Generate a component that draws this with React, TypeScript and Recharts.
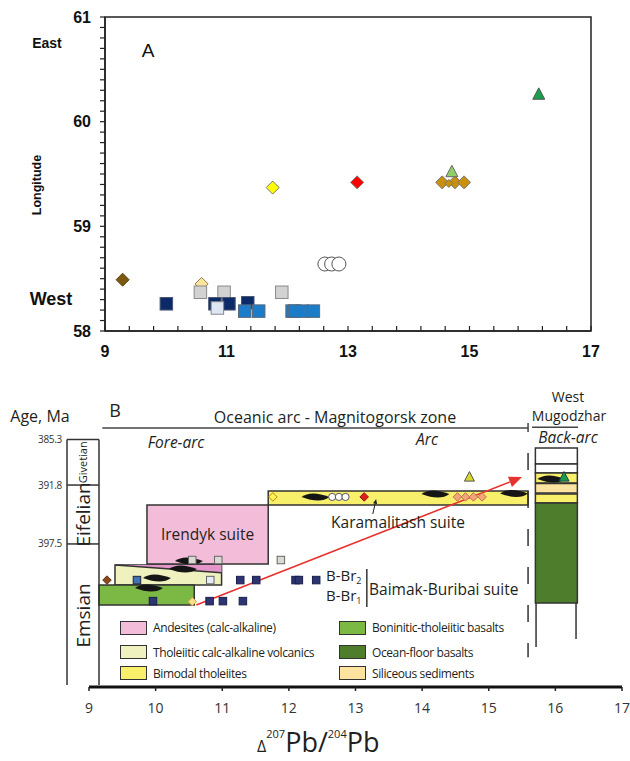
import {
  Area,
  ComposedChart,
  Label,
  Legend,
  ReferenceArea,
  ReferenceLine,
  Scatter,
  ScatterChart,
  XAxis,
  YAxis,
} from "recharts";

type Pt = { x: number; y: number };

// ---------- panel A : longitude vs Δ207Pb/204Pb ----------
const A_X_MAJOR = [9, 11, 13, 15, 17];
const A_Y_MAJOR = [58, 59, 60, 61];

const A_BROWN: Pt[] = [{ x: 9.29, y: 58.49 }];
const A_PALE: Pt[] = [{ x: 10.59, y: 58.45 }];
const A_GRAY: Pt[] = [
  { x: 10.57, y: 58.37 },
  { x: 10.96, y: 58.37 },
  { x: 11.91, y: 58.37 },
];
const A_NAVY: Pt[] = [
  { x: 10.01, y: 58.26 },
  { x: 10.81, y: 58.26 },
  { x: 11.04, y: 58.26 },
  { x: 11.35, y: 58.27 },
];
const A_LIGHTBLUE: Pt[] = [{ x: 10.85, y: 58.22 }];
const A_BLUE: Pt[] = [
  { x: 11.3, y: 58.19 },
  { x: 11.53, y: 58.19 },
  { x: 12.08, y: 58.19 },
  { x: 12.12, y: 58.19 },
  { x: 12.24, y: 58.19 },
  { x: 12.43, y: 58.19 },
];
const A_OPEN: Pt[] = [
  { x: 12.62, y: 58.64 },
  { x: 12.73, y: 58.64 },
  { x: 12.85, y: 58.64 },
];
const A_YELLOW: Pt[] = [{ x: 11.76, y: 59.37 }];
const A_RED: Pt[] = [{ x: 13.15, y: 59.42 }];
const A_GOLD: Pt[] = [
  { x: 14.55, y: 59.42 },
  { x: 14.76, y: 59.42 },
  { x: 14.91, y: 59.42 },
];
const A_GOLD_SMALL: Pt[] = [{ x: 14.66, y: 59.41 }];
const A_LIME_TRI: Pt[] = [{ x: 14.71, y: 59.52 }];
const A_GREEN_TRI: Pt[] = [{ x: 16.14, y: 60.26 }];

// ---------- panel B : stratigraphic scheme ----------
const B_X_TICKS = [9, 10, 11, 12, 13, 14, 15, 16, 17];
const STAGE_NAMES = ["Givetian", "Eifelian", "Emsian"];
const STAGE_TOPS = [10, 8.16, 5.78]; // level of each stage top
const STAGE_BOTTOMS = [8.16, 5.78, 0];
const STAGE_AGES = ["385.3", "391.8", "397.5"];
const AGE_COLUMN_X = [8.67, 9.15];

const SUITE_BOXES = [
  { key: "tholeiitic", x1: 9.39, x2: 10.99, y1: 4.12, y2: 4.93 },
  { key: "boninitic", x1: 9.15, x2: 10.58, y1: 3.31, y2: 4.12 },
  { key: "bimodal", x1: 11.69, x2: 15.59, y1: 7.35, y2: 7.92 },
];
const IRENDYK = { x1: 9.87, x2: 11.69, y1: 4.97, y2: 7.35 };
const WEDGE = [
  { x: 9.4, r: [4.93, 4.93] },
  { x: 10.99, r: [4.62, 4.93] },
];

const BACKARC_X = [15.7, 16.33];
const BACKARC_LAYERS = [
  { key: "blank", y1: 9.01, y2: 9.66 },
  { key: "blank", y1: 8.65, y2: 9.01 },
  { key: "bimodal", y1: 8.24, y2: 8.65 },
  { key: "siliceous", y1: 7.84, y2: 8.22 },
  { key: "bimodal", y1: 7.43, y2: 7.8 },
  { key: "oceanFloor", y1: 3.39, y2: 7.43 },
];

const B_GRAY: Pt[] = [
  { x: 10.55, y: 5.13 },
  { x: 10.94, y: 5.13 },
  { x: 11.88, y: 5.13 },
];
const B_BROWN: Pt[] = [{ x: 9.27, y: 4.32 }];
const B_BLUE: Pt[] = [{ x: 9.72, y: 4.32 }];
const B_LIGHT: Pt[] = [{ x: 10.82, y: 4.32 }];
const B_NAVY: Pt[] = [
  { x: 11.27, y: 4.32 },
  { x: 11.51, y: 4.32 },
  { x: 12.1, y: 4.32 },
  { x: 12.15, y: 4.32 },
  { x: 12.41, y: 4.32 },
  { x: 9.96, y: 3.47 },
  { x: 10.81, y: 3.47 },
  { x: 11.01, y: 3.47 },
  { x: 11.31, y: 3.47 },
];
const B_PALE: Pt[] = [{ x: 10.55, y: 3.45 }];
const B_YELLOW: Pt[] = [{ x: 11.76, y: 7.68 }];
const B_OPEN: Pt[] = [
  { x: 12.65, y: 7.68 },
  { x: 12.75, y: 7.68 },
  { x: 12.85, y: 7.68 },
];
const B_RED: Pt[] = [{ x: 13.13, y: 7.68 }];
const B_ORANGE: Pt[] = [
  { x: 14.53, y: 7.68 },
  { x: 14.65, y: 7.68 },
  { x: 14.77, y: 7.68 },
  { x: 14.9, y: 7.68 },
];
const B_LIME_TRI: Pt[] = [{ x: 14.71, y: 8.48 }];
const B_GREEN_TRI: Pt[] = [{ x: 16.13, y: 8.48 }];
const B_LENSES: Pt[] = [
  { x: 12.4, y: 7.68 },
  { x: 14.2, y: 7.8 },
  { x: 15.38, y: 7.82 },
  { x: 15.94, y: 8.4 },
  { x: 10.5, y: 5.09 },
  { x: 10.41, y: 4.77 },
  { x: 10.02, y: 4.4 },
  { x: 9.9, y: 4.0 },
];

const LEGEND_LABELS = [
  "Andesites (calc-alkaline)",
  "Tholeiitic calc-alkaline volcanics",
  "Bimodal tholeiites",
  "Boninitic-tholeiitic basalts",
  "Ocean-floor basalts",
  "Siliceous sediments",
];
const LEGEND_KEYS = ["andesite", "tholeiitic", "bimodal", "boninitic", "oceanFloor", "siliceous"];

const FILL: Record<string, string> = {
  andesite: "#f3bdd9",
  tholeiitic: "#eff2bf",
  bimodal: "#f8ef6b",
  boninitic: "#7cb944",
  oceanFloor: "#4e7e2b",
  siliceous: "#fde3a0",
  blank: "#ffffff",
};

const ARIAL = '"Liberation Sans", Arial, sans-serif';
const SANS = '"Open Sans", "Noto Sans", sans-serif';
const INK = "#231f20";

// ---------- marker shapes ----------
const sq = (fill: string, stroke: string, s: number) => (p: any) => (
  <rect x={p.cx - s / 2} y={p.cy - s / 2} width={s} height={s} fill={fill} stroke={stroke} strokeWidth={1} />
);
const dia = (fill: string, stroke: string, s: number) => (p: any) => (
  <polygon
    points={`${p.cx},${p.cy - s / 2} ${p.cx + s / 2},${p.cy} ${p.cx},${p.cy + s / 2} ${p.cx - s / 2},${p.cy}`}
    fill={fill}
    stroke={stroke}
    strokeWidth={1}
  />
);
const tri = (fill: string, stroke: string, s: number) => (p: any) => (
  <polygon
    points={`${p.cx},${p.cy - s * 0.55} ${p.cx + s / 2},${p.cy + s * 0.4} ${p.cx - s / 2},${p.cy + s * 0.4}`}
    fill={fill}
    stroke={stroke}
    strokeWidth={1}
  />
);
const ring = (r: number) => (p: any) => (
  <circle cx={p.cx} cy={p.cy} r={r} fill="#fff" stroke="#555" strokeWidth={1} />
);
const lens = (w: number, h: number) => (p: any) => (
  <path
    d={`M${p.cx - w / 2},${p.cy} Q${p.cx - w / 6},${p.cy - h} ${p.cx + w / 2},${p.cy} Q${p.cx + w / 6},${p.cy + h} ${p.cx - w / 2},${p.cy}Z`}
    fill="#151515"
  />
);
const arrow = (color: string, head: number, width: number) => (p: any) => {
  const { x1, y1, x2, y2 } = p;
  const a = Math.atan2(y2 - y1, x2 - x1);
  const bx = x2 - head * Math.cos(a);
  const by = y2 - head * Math.sin(a);
  const nx = -Math.sin(a) * head * 0.42;
  const ny = Math.cos(a) * head * 0.42;
  return (
    <g>
      <line x1={x1} y1={y1} x2={bx} y2={by} stroke={color} strokeWidth={width} />
      <polygon points={`${x2},${y2} ${bx + nx},${by + ny} ${bx - nx},${by - ny}`} fill={color} />
    </g>
  );
};

// ---------- ticks ----------
const A_X_TICKS = Array.from({ length: 21 }, (_, i) => Math.round((9 + i * 0.4) * 10) / 10);
const A_Y_TICKS = Array.from({ length: 31 }, (_, i) => Math.round((58 + i * 0.1) * 10) / 10);

const XTickA = (p: any) => {
  const v = p.payload.value;
  const major = A_X_MAJOR.some((m) => Math.abs(m - v) < 1e-6);
  return (
    <g>
      <line x1={p.x} x2={p.x} y1={p.y} y2={p.y - 5} stroke="#222" strokeWidth={1.2} />
      {major && (
        <text x={p.x} y={p.y + 20} dy="0.35em" textAnchor="middle" fontFamily={ARIAL} fontWeight="bold" fontSize={16} fill="#111">
          {Math.round(v)}
        </text>
      )}
    </g>
  );
};

const YTickA = (p: any) => {
  const v = p.payload.value;
  const major = A_Y_MAJOR.some((m) => Math.abs(m - v) < 1e-6);
  return (
    <g>
      <line x1={p.x - 5} x2={p.x} y1={p.y} y2={p.y} stroke="#222" strokeWidth={1.2} />
      {major && (
        <text x={p.x - 14} y={p.y} dy="0.35em" textAnchor="end" fontFamily={ARIAL} fontWeight="bold" fontSize={16} fill="#111">
          {Math.round(v)}
        </text>
      )}
    </g>
  );
};

const XTickB = (p: any) => (
  <g>
    <line x1={p.x} x2={p.x} y1={p.y} y2={p.y + 4} stroke="#222" strokeWidth={1.5} />
    <text x={p.x} y={p.y + 21} dy="0.35em" textAnchor="middle" fontFamily={SANS} fontSize={14} fill="#333">
      {p.payload.value}
    </text>
  </g>
);

const YTickB = (p: any) => {
  const i = STAGE_TOPS.indexOf(p.payload.value);
  return (
    <text x={p.x} y={p.y} dy="0.35em" textAnchor="end" fontFamily={SANS} fontSize={10} letterSpacing={-0.3} fill="#333">
      {STAGE_AGES[i]}
    </text>
  );
};

const LegendBoxes = () => (
  <div style={{ position: "relative", width: 400, height: 62, fontFamily: SANS, color: INK }}>
    {LEGEND_LABELS.map((label, i) => {
      const col = i < 3 ? 0 : 1;
      const row = i % 3;
      return (
        <div
          key={label}
          style={{ position: "absolute", left: col * 219, top: [0, 24.5, 45.5][row], display: "flex", alignItems: "center", whiteSpace: "nowrap" }}
        >
          <span style={{ width: 25, height: 12, background: FILL[LEGEND_KEYS[i]], border: "1.5px solid #333", display: "inline-block" }} />
          <span style={{ marginLeft: 6, fontSize: 12, letterSpacing: -0.4 }}>{label}</span>
        </div>
      );
    })}
  </div>
);

const Txt = ({ x, y, size, children, anchor = "middle", italic, bold, rotate, family = SANS }: any) => (
  <div
    style={{
      position: "absolute",
      left: x,
      top: y,
      transform: `translate(${anchor === "start" ? "0" : "-50%"}, -50%)${rotate ? ` rotate(${rotate}deg)` : ""}`,
      fontSize: size,
      fontStyle: italic ? "italic" : "normal",
      fontWeight: bold ? "bold" : "normal",
      fontFamily: family,
      whiteSpace: "nowrap",
      lineHeight: 1,
      color: family === ARIAL ? "#111" : INK,
    }}
  >
    {children}
  </div>
);

const App = () => {
  const a = { isAnimationActive: false };
  return (
    <div style={{ position: "absolute", left: 0, top: 0, width: 630, height: 761, background: "#fff" }}>
      <div style={{ position: "absolute", left: 0, top: 0 }}>
        <ScatterChart width={630} height={360} margin={{ top: 17, right: 39, bottom: 4, left: 65 }}>
          <XAxis
            dataKey="x"
            type="number"
            domain={[9, 17]}
            ticks={A_X_TICKS}
            interval={0}
            tickSize={0}
            tickMargin={0}
            tickLine={false}
            tick={<XTickA />}
            height={25}
            axisLine={{ stroke: "#222", strokeWidth: 1.5 }}
            allowDataOverflow
          />
          <YAxis
            dataKey="y"
            type="number"
            domain={[58, 61]}
            ticks={A_Y_TICKS}
            interval={0}
            tickSize={0}
            tickMargin={0}
            tickLine={false}
            tick={<YTickA />}
            width={40}
            axisLine={{ stroke: "#222", strokeWidth: 1.5 }}
            allowDataOverflow
          />
          <ReferenceArea x1={9} x2={17} y1={58} y2={61} fill="none" stroke="#222" strokeWidth={1.5} />
          <Scatter data={A_BROWN} shape={dia("#7b5a10", "#5a4208", 13)} {...a} />
          <Scatter data={A_PALE} shape={dia("#fde49b", "#8a7a55", 13)} {...a} />
          <Scatter data={A_GRAY} shape={sq("#d2d2d2", "#8a8a8a", 12.5)} {...a} />
          <Scatter data={A_NAVY} shape={sq("#0c2a68", "#4a5670", 12.5)} {...a} />
          <Scatter data={A_LIGHTBLUE} shape={sq("#dde6f5", "#888", 12.5)} {...a} />
          <Scatter data={A_BLUE} shape={sq("#1b7cc9", "#5a6a7a", 12.5)} {...a} />
          <Scatter data={A_OPEN} shape={ring(7)} {...a} />
          <Scatter data={A_YELLOW} shape={dia("#ffff00", "#777", 13)} {...a} />
          <Scatter data={A_RED} shape={dia("#ff0000", "#777", 13)} {...a} />
          <Scatter data={A_GOLD} shape={dia("#c8900c", "#777", 13)} {...a} />
          <Scatter data={A_GOLD_SMALL} shape={dia("#c8900c", "#777", 8)} {...a} />
          <Scatter data={A_LIME_TRI} shape={tri("#8fd068", "#666", 12)} {...a} />
          <Scatter data={A_GREEN_TRI} shape={tri("#18a04c", "#555", 12)} {...a} />
        </ScatterChart>
      </div>

      <div style={{ position: "absolute", left: 0, top: 370 }}>
        <ComposedChart width={630} height={391} margin={{ top: 20, right: 8, bottom: 0, left: 59 }}>
          <XAxis
            dataKey="x"
            type="number"
            domain={[9, 17]}
            ticks={B_X_TICKS}
            interval={0}
            tickSize={0}
            tickMargin={0}
            tickLine={false}
            tick={<XTickB />}
            height={74}
            axisLine={{ stroke: "#111", strokeWidth: 3 }}
            allowDataOverflow
          />
          <YAxis
            dataKey="y"
            type="number"
            domain={[0, 12]}
            ticks={STAGE_TOPS}
            interval={0}
            tickSize={0}
            tickMargin={27}
            tickLine={false}
            axisLine={false}
            tick={<YTickB />}
            width={30}
            allowDataOverflow
          />

          {/* age column */}
          {STAGE_NAMES.map((name, i) => (
            <ReferenceArea
              key={name}
              x1={AGE_COLUMN_X[0]}
              x2={AGE_COLUMN_X[1]}
              y1={STAGE_BOTTOMS[i]}
              y2={STAGE_TOPS[i]}
              fill="#fff"
              fillOpacity={1}
              stroke="none"
              ifOverflow="visible"
            >
              <Label value={name} position="center" angle={-90} fontSize={i === 0 ? 11 : 19} fontFamily={SANS} fill={INK} />
            </ReferenceArea>
          ))}
          {STAGE_TOPS.map((t) => (
            <ReferenceLine
              key={t}
              segment={[
                { x: AGE_COLUMN_X[0], y: t },
                { x: AGE_COLUMN_X[1], y: t },
              ]}
              stroke="#333"
              strokeWidth={1.5}
              ifOverflow="visible"
            />
          ))}
          {AGE_COLUMN_X.map((x) => (
            <ReferenceLine
              key={x}
              segment={[
                { x, y: 0.08 },
                { x, y: STAGE_TOPS[0] },
              ]}
              stroke="#333"
              strokeWidth={1.5}
              ifOverflow="visible"
            />
          ))}

          {/* header rules */}
          <ReferenceLine segment={[{ x: 9.2, y: 10.46 }, { x: 15.59, y: 10.46 }]} stroke="#444" strokeWidth={1.5} />
          <ReferenceLine segment={[{ x: 15.59, y: 10.3 }, { x: 15.59, y: 10.67 }]} stroke="#444" strokeWidth={1.5} />
          <ReferenceLine segment={[{ x: 15.65, y: 10.5 }, { x: 16.34, y: 10.5 }]} stroke="#444" strokeWidth={1.5} />

          {/* suites */}
          <ReferenceArea {...IRENDYK} fill={FILL.andesite} fillOpacity={1} stroke="#333" strokeWidth={1.5}>
            <Label value="Irendyk suite" position="center" fontSize={15.5} fontFamily={SANS} fill={INK} />
          </ReferenceArea>
          {SUITE_BOXES.map((b) => (
            <ReferenceArea
              key={b.key}
              x1={b.x1}
              x2={b.x2}
              y1={b.y1}
              y2={b.y2}
              fill={FILL[b.key]}
              fillOpacity={1}
              stroke="#333"
              strokeWidth={1.5}
            />
          ))}
          <Area data={WEDGE} dataKey="r" type="linear" fill="#e596c8" fillOpacity={1} stroke="none" dot={false} activeDot={false} {...a} />
          <ReferenceLine segment={[{ x: 9.4, y: 4.93 }, { x: 10.99, y: 4.62 }]} stroke="#333" strokeWidth={1.5} />

          {/* back-arc column */}
          {BACKARC_LAYERS.map((l, i) => (
            <ReferenceArea
              key={i}
              x1={BACKARC_X[0]}
              x2={BACKARC_X[1]}
              y1={l.y1}
              y2={l.y2}
              fill={FILL[l.key]}
              fillOpacity={1}
              stroke="#333"
              strokeWidth={1.5}
            />
          ))}
          <ReferenceLine segment={[{ x: 15.71, y: 3.39 }, { x: 15.71, y: 1.62 }]} stroke="#333" strokeWidth={1.5} />
          <ReferenceLine segment={[{ x: 16.31, y: 3.39 }, { x: 16.31, y: 1.94 }]} stroke="#333" strokeWidth={1.5} />

          {/* zone boundary */}
          <ReferenceLine segment={[{ x: 15.59, y: 9.45 }, { x: 15.59, y: 1.2 }]} stroke="#333" strokeWidth={1.5} strokeDasharray="17 21" />
          <ReferenceLine segment={[{ x: 13.17, y: 4.77 }, { x: 13.17, y: 3.23 }]} stroke="#333" strokeWidth={1.5} />

          <Scatter data={B_LENSES} dataKey="y" shape={lens(28, 7)} {...a} />
          <Scatter data={B_GRAY} dataKey="y" shape={sq("#dcd8d2", "#666", 7.5)} {...a} />
          <Scatter data={B_BROWN} dataKey="y" shape={dia("#8b4a1e", "#5a3010", 8.5)} {...a} />
          <Scatter data={B_BLUE} dataKey="y" shape={sq("#3f73b8", "#223", 7.5)} {...a} />
          <Scatter data={B_LIGHT} dataKey="y" shape={sq("#e6ecf5", "#666", 7.5)} {...a} />
          <Scatter data={B_NAVY} dataKey="y" shape={sq("#2c3472", "#1a1f4a", 7.5)} {...a} />
          <Scatter data={B_PALE} dataKey="y" shape={dia("#fde08a", "#c9a040", 8.5)} {...a} />
          <Scatter data={B_YELLOW} dataKey="y" shape={dia("#fff45c", "#c98a00", 8.5)} {...a} />
          <Scatter data={B_OPEN} dataKey="y" shape={ring(3.6)} {...a} />
          <Scatter data={B_RED} dataKey="y" shape={dia("#e0201c", "#8b1010", 8.5)} {...a} />
          <Scatter data={B_ORANGE} dataKey="y" shape={dia("#f4a57a", "#c07050", 8.5)} {...a} />
          <Scatter data={B_LIME_TRI} dataKey="y" shape={tri("#d6d631", "#555", 10)} {...a} />
          <Scatter data={B_GREEN_TRI} dataKey="y" shape={tri("#1e9a4a", "#145", 10)} {...a} />

          <ReferenceLine segment={[{ x: 10.61, y: 3.31 }, { x: 15.5, y: 8.48 }]} stroke="#e8322d" shape={arrow("#e8322d", 13, 1.6)} />
          <ReferenceLine segment={[{ x: 13.26, y: 6.99 }, { x: 13.31, y: 7.6 }]} stroke="#222" shape={arrow("#222", 5, 1)} />

          <Legend
            layout="horizontal"
            verticalAlign="middle"
            content={<LegendBoxes />}
            wrapperStyle={{ position: "absolute", left: 120, top: 249, width: 400 }}
          />
        </ComposedChart>
      </div>

      {/* panel A texts */}
      <Txt x={47} y={43} size={14} bold family={ARIAL}>East</Txt>
      <Txt x={51} y={299} size={18} bold family={ARIAL}>West</Txt>
      <Txt x={37} y={185} size={12.5} bold rotate={-90} family={ARIAL}>Longitude</Txt>
      <Txt x={148} y={50} size={19} family={ARIAL}>A</Txt>

      {/* panel B texts */}
      <Txt x={40} y={416} size={16}>Age, Ma</Txt>
      <Txt x={115} y={410} size={18}>B</Txt>
      <Txt x={335} y={417} size={16}>Oceanic arc - Magnitogorsk zone</Txt>
      <Txt x={176} y={443} size={15.5} italic>Fore-arc</Txt>
      <Txt x={427} y={440} size={15.5} italic>Arc</Txt>
      <Txt x={568} y={397} size={14}>West</Txt>
      <Txt x={569} y={416} size={14}>Mugodzhar</Txt>
      <Txt x={568} y={438} size={15.5} italic>Back-arc</Txt>
      <Txt x={398} y={523} size={15.5}>Karamalitash suite</Txt>
      <Txt x={326} y={576} size={15} anchor="start">
        B-Br<span style={{ fontSize: 9, verticalAlign: "-3px" }}>2</span>
      </Txt>
      <Txt x={326} y={596} size={15} anchor="start">
        B-Br<span style={{ fontSize: 9, verticalAlign: "-3px" }}>1</span>
      </Txt>
      <Txt x={369} y={590} size={15.5} anchor="start">Baimak-Buribai suite</Txt>
      <div style={{ position: "absolute", left: 257, top: 728, fontFamily: SANS, color: INK, whiteSpace: "nowrap", lineHeight: 1 }}>
        <span style={{ fontSize: 16 }}>Δ</span>
        <span style={{ fontSize: 11, position: "relative", top: -14 }}>207</span>
        <span style={{ fontSize: 27 }}>Pb/</span>
        <span style={{ fontSize: 11, position: "relative", top: -14 }}>204</span>
        <span style={{ fontSize: 27 }}>Pb</span>
      </div>
    </div>
  );
};

export default App;
